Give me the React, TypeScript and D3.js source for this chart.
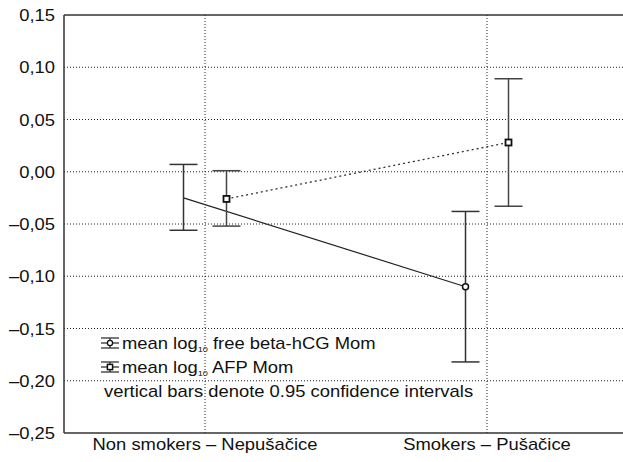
import * as d3 from "d3";

const groups = ["Non smokers – Nepušačice", "Smokers – Pušačice"];
const hcgMean = [-0.025, -0.110];
const hcgLow = [-0.056, -0.182];
const hcgHigh = [0.007, -0.038];
const hcgMarkerShown = [false, true];
const afpMean = [-0.026, 0.028];
const afpLow = [-0.052, -0.033];
const afpHigh = [0.001, 0.089];
const yTicks = [0.15, 0.1, 0.05, 0, -0.05, -0.1, -0.15, -0.2, -0.25];

const W = 623;
const H = 462;
const left = 64;
const top = 15;
const bottom = 433;
const font = "Liberation Sans, Arial, sans-serif";
const sx = 1.15;

function T({ x, y, anchor, children }: { x: number; y: number; anchor?: string; children: any }) {
  return (
    <text transform={`translate(${x},${y}) scale(${sx},1)`} textAnchor={anchor || "start"} fontSize={16} fill="#111">
      {children}
    </text>
  );
}

export default function App() {
  const x = d3.scalePoint().domain(groups).range([left, 628]).padding(0.5);
  const y = d3.scaleLinear().domain([-0.25, 0.15]).range([bottom, top]);
  const off = 21.5;
  const cap = 14;

  const fmt = (v: number) => {
    const s = Math.abs(v).toFixed(2).replace(".", ",");
    return v < 0 ? "–" + s : s;
  };

  const hcgPts = groups.map((g, i) => [x(g)! - off, y(hcgMean[i])] as [number, number]);
  const afpPts = groups.map((g, i) => [x(g)! + off, y(afpMean[i])] as [number, number]);
  const line = d3.line();

  return (
    <svg width={W} height={H} style={{ position: "absolute", left: 0, top: 0, background: "#fff" }} fontFamily={font}>
      {/* grid */}
      {yTicks.filter((t) => t !== 0.15 && t !== -0.25).map((t) => (
        <line key={t} x1={left} x2={W} y1={y(t)} y2={y(t)} stroke="#222" strokeWidth={1} strokeDasharray="1,2" />
      ))}
      {groups.map((g) => (
        <line key={g} x1={x(g)} x2={x(g)} y1={top} y2={bottom} stroke="#222" strokeWidth={1} strokeDasharray="1,2" />
      ))}
      {/* axes frame */}
      <line x1={left} x2={W} y1={top} y2={top} stroke="#333" strokeWidth={1.5} />
      <line x1={left} x2={W} y1={bottom} y2={bottom} stroke="#333" strokeWidth={1.5} />
      <line x1={left} x2={left} y1={top} y2={bottom} stroke="#333" strokeWidth={1.5} />
      {yTicks.map((t) => (
        <T key={t} x={55} y={y(t) + 6} anchor="end">{fmt(t)}</T>
      ))}
      {groups.map((g) => (
        <T key={g} x={x(g)!} y={450} anchor="middle">{g}</T>
      ))}
      {/* lines */}
      <path d={line(hcgPts)!} fill="none" stroke="#222" strokeWidth={1.2} />
      <path d={line(afpPts)!} fill="none" stroke="#333" strokeWidth={1.3} strokeDasharray="2,3" />
      {/* error bars */}
      {groups.map((g, i) => {
        const cx = x(g)! - off;
        return (
          <g key={"h" + g} stroke="#333" strokeWidth={1.5}>
            <line x1={cx} x2={cx} y1={y(hcgLow[i])} y2={y(hcgHigh[i])} />
            <line x1={cx - cap} x2={cx + cap} y1={y(hcgLow[i])} y2={y(hcgLow[i])} />
            <line x1={cx - cap} x2={cx + cap} y1={y(hcgHigh[i])} y2={y(hcgHigh[i])} />
          </g>
        );
      })}
      {groups.map((g, i) => {
        const cx = x(g)! + off;
        return (
          <g key={"a" + g} stroke="#444" strokeWidth={1.5}>
            <line x1={cx} x2={cx} y1={y(afpLow[i])} y2={y(afpHigh[i])} />
            <line x1={cx - cap} x2={cx + cap} y1={y(afpLow[i])} y2={y(afpLow[i])} />
            <line x1={cx - cap} x2={cx + cap} y1={y(afpHigh[i])} y2={y(afpHigh[i])} />
          </g>
        );
      })}
      {hcgPts.map(([px, py], i) =>
        hcgMarkerShown[i] ? (
          <circle key={"c" + i} cx={px} cy={py} r={3} fill="#fff" stroke="#111" strokeWidth={1.5} />
        ) : null
      )}
      {afpPts.map(([px, py], i) => (
        <rect key={"r" + i} x={px - 3} y={py - 3} width={6} height={6} fill="#fff" stroke="#111" strokeWidth={1.8} />
      ))}
      {/* legend */}
      {[0, 1].map((k) => {
        const cy = 343 + k * 24;
        const cx = 110;
        return (
          <g key={"lg" + k}>
            <g stroke="#222" strokeWidth={1.2}>
              <line x1={cx - 9} x2={cx + 9} y1={cy - 5} y2={cy - 5} />
              <line x1={cx - 9} x2={cx + 9} y1={cy + 5} y2={cy + 5} />
              <line x1={cx - 9} x2={cx + 9} y1={cy} y2={cy} />
              <line x1={cx} x2={cx} y1={cy - 5} y2={cy + 5} />
            </g>
            {k === 0 ? (
              <circle cx={cx} cy={cy} r={2.6} fill="#fff" stroke="#111" strokeWidth={1.3} />
            ) : (
              <rect x={cx - 2.6} y={cy - 2.6} width={5.2} height={5.2} fill="#fff" stroke="#111" strokeWidth={1.5} />
            )}
            <T x={122} y={cy + 6}>
              mean log<tspan fontSize={8} dy={3}>10</tspan>
              <tspan dy={-3}>{k === 0 ? " free beta-hCG Mom" : " AFP Mom"}</tspan>
            </T>
          </g>
        );
      })}
      <T x={104} y={397}>vertical bars denote 0.95 confidence intervals</T>
    </svg>
  );
}
